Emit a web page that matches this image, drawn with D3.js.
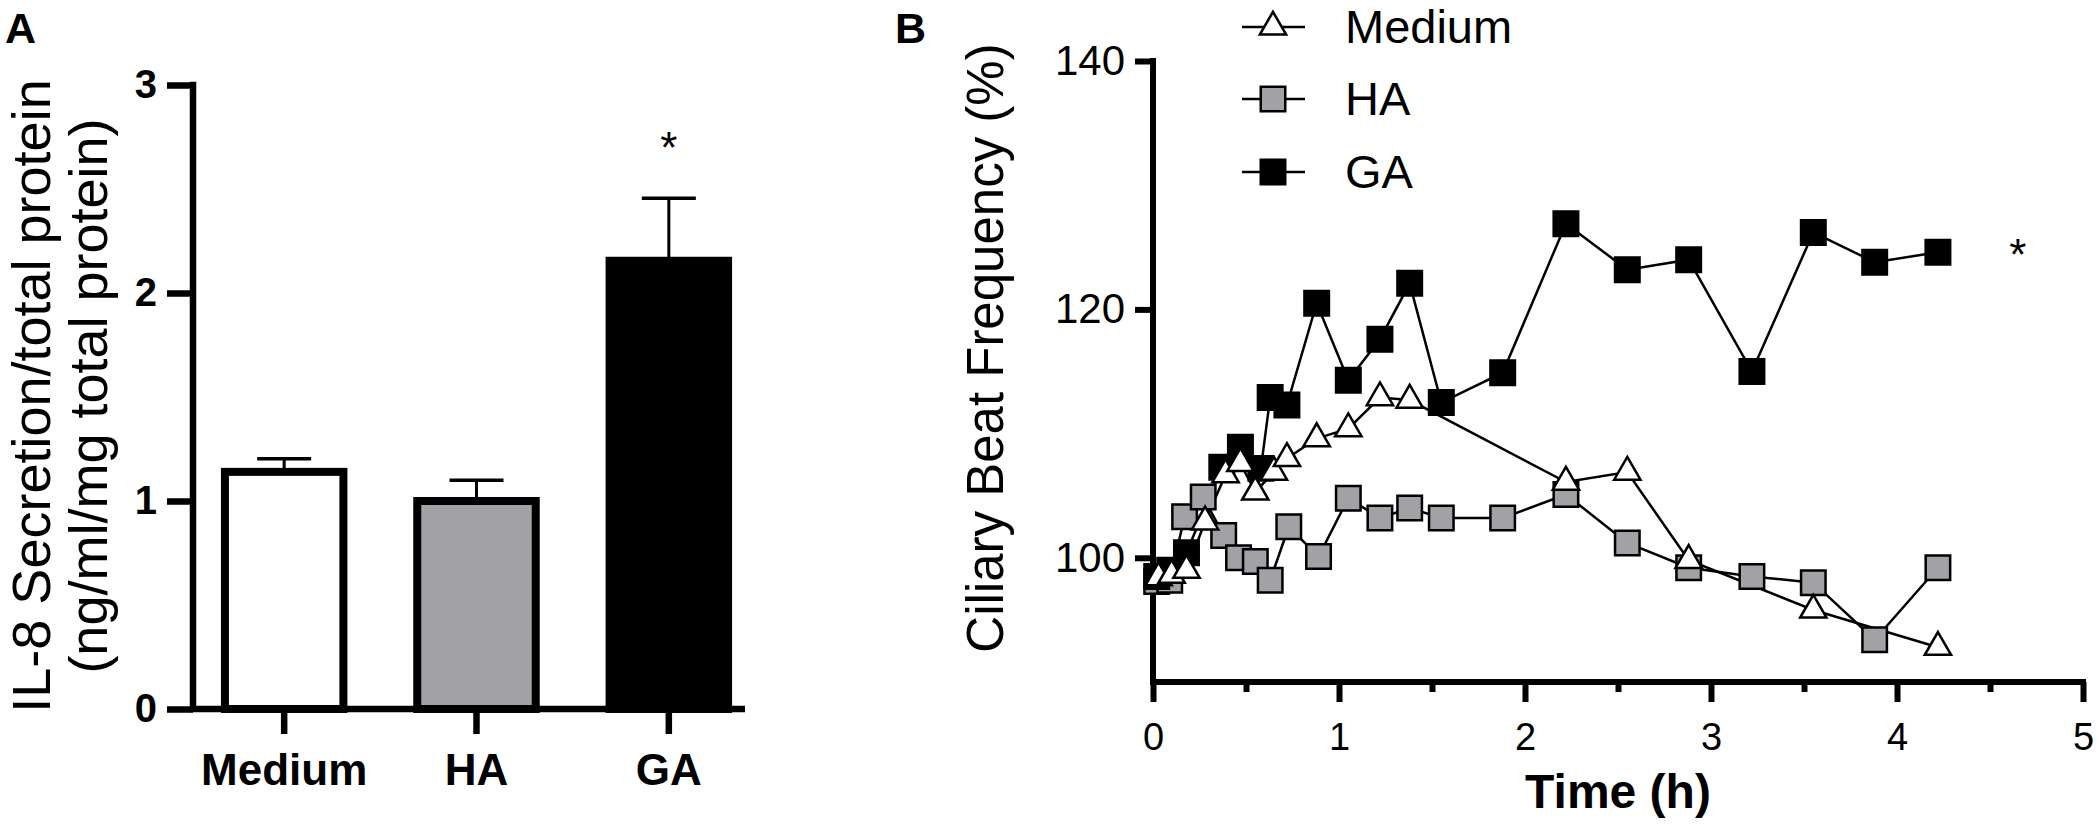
<!DOCTYPE html>
<html>
<head>
<meta charset="utf-8">
<script src="https://cdn.jsdelivr.net/npm/d3@7"></script>
<style>
  body { margin: 0; background: #fff; }
  text { font-family: Arial, "Liberation Sans", sans-serif; fill: #000; }
</style>
</head>
<body>
<svg id="fig" width="2100" height="825"></svg>
<script>
// ---- panel A: IL-8 secretion ----
var barGroups = ["Medium", "HA", "GA"];
var barMeans = [1.14, 1.00, 2.155];
var barErrors = [0.063, 0.10, 0.30];
var barTicks = [0, 1, 2, 3];

// ---- panel B: ciliary beat frequency over time ----
var mediumTime = [0.03, 0.10, 0.18, 0.28, 0.39, 0.47, 0.55, 0.65, 0.72, 0.88, 1.05, 1.22, 1.38, 2.22, 2.55, 2.88, 3.55, 4.22];
var mediumCBF  = [98.4, 98.6, 99.0, 102.9, 106.7, 107.6, 105.3, 106.9, 108.0, 109.6, 110.4, 112.9, 112.7, 106.1, 106.9, 99.8, 95.8, 92.8];
var haTime = [0.02, 0.09, 0.17, 0.27, 0.38, 0.46, 0.55, 0.63, 0.73, 0.89, 1.05, 1.22, 1.38, 1.55, 1.88, 2.22, 2.55, 2.88, 3.22, 3.55, 3.88, 4.22];
var haCBF  = [98.1, 98.2, 103.3, 104.9, 101.8, 100.0, 99.7, 98.2, 102.5, 100.1, 104.8, 103.2, 104.0, 103.2, 103.2, 105.1, 101.2, 99.2, 98.5, 98.0, 93.4, 99.2];
var gaTime = [0.02, 0.09, 0.18, 0.37, 0.47, 0.58, 0.63, 0.72, 0.88, 1.05, 1.22, 1.38, 1.55, 1.88, 2.22, 2.55, 2.88, 3.22, 3.55, 3.88, 4.22];
var gaCBF  = [98.5, 99.0, 100.4, 107.3, 108.9, 107.2, 112.9, 112.3, 120.5, 114.3, 117.6, 122.1, 112.5, 114.9, 126.9, 123.2, 124.0, 115.0, 126.2, 123.8, 124.6];
var timeTicks = [0, 1, 2, 3, 4, 5];
var timeMinorTicks = [0.5, 1.5, 2.5, 3.5, 4.5];
var cbfTicks = [100, 120, 140];

var GRAY = "#a2a2a6";
var barFill = { Medium: "#fff", HA: GRAY, GA: "#000" };

var svg = d3.select("#fig");

// ================= panel A =================
var xA = d3.scaleBand().domain(barGroups).range([188, 765]).paddingInner(0.384).paddingOuter(0.192);
var yA = d3.scaleLinear().domain([0, 3]).range([709, 85]);

var gA = svg.append("g");

var bars = barGroups.map(function(g, i) { return { group: g, mean: barMeans[i], err: barErrors[i] }; });

// error bars (one-sided, drawn under the bars)
gA.selectAll(".err").data(bars).enter().append("g")
    .each(function(d) {
        var cx = xA(d.group) + xA.bandwidth() / 2;
        var g = d3.select(this);
        g.append("line").attr("x1", cx).attr("x2", cx)
            .attr("y1", yA(d.mean)).attr("y2", yA(d.mean + d.err))
            .attr("stroke", "#000").attr("stroke-width", 3);
        g.append("line").attr("x1", cx - 27).attr("x2", cx + 27)
            .attr("y1", yA(d.mean + d.err)).attr("y2", yA(d.mean + d.err))
            .attr("stroke", "#000").attr("stroke-width", 3.5);
    });

gA.selectAll(".bar").data(bars).enter().append("rect")
    .attr("x", function(d) { return xA(d.group); })
    .attr("width", xA.bandwidth())
    .attr("y", function(d) { return yA(d.mean); })
    .attr("height", function(d) { return yA(0) - yA(d.mean); })
    .attr("fill", function(d) { return barFill[d.group]; })
    .attr("stroke", "#000")
    .attr("stroke-width", 8);

// y axis
var axA = gA.append("g").attr("transform", "translate(193,0)")
    .call(d3.axisLeft(yA).tickValues(barTicks).tickFormat(d3.format("d")).tickSize(26).tickPadding(10));
axA.select(".domain").remove();
axA.selectAll(".tick line").attr("stroke", "#000").attr("stroke-width", 6.5);
axA.selectAll(".tick text").style("font-size", "40px").style("font-weight", "bold");
gA.append("line").attr("x1", 193).attr("x2", 193).attr("y1", yA(3) - 3.25).attr("y2", yA(0))
    .attr("stroke", "#000").attr("stroke-width", 6.5);

// x axis
var axAx = gA.append("g").attr("transform", "translate(0," + yA(0) + ")")
    .call(d3.axisBottom(xA).tickSize(25).tickPadding(20));
axAx.select(".domain").remove();
axAx.selectAll(".tick line").attr("stroke", "#000").attr("stroke-width", 6.5);
axAx.selectAll(".tick text").style("font-size", "44px").style("font-weight", "bold");
gA.append("line").attr("x1", 190).attr("x2", 745).attr("y1", yA(0)).attr("y2", yA(0))
    .attr("stroke", "#000").attr("stroke-width", 6.5);

// significance marker
gA.append("text").attr("x", xA("GA") + xA.bandwidth() / 2).attr("y", 163)
    .attr("text-anchor", "middle").style("font-size", "44px").text("*");

// y title (two lines)
var titleA = ["IL-8 Secretion/total protein", "(ng/ml/mg total protein)"];
gA.selectAll(".ytitle").data(titleA).enter().append("text")
    .attr("transform", function(d, i) { return "translate(" + (i === 0 ? 50 : 107) + ",396) rotate(-90)"; })
    .attr("text-anchor", "middle")
    .style("font-size", "54px")
    .text(function(d) { return d; });

// panel letter
svg.append("text").attr("x", 5).attr("y", 43).style("font-size", "43px").style("font-weight", "bold").text("A");

// ================= panel B =================
var xB = d3.scaleLinear().domain([0, 5]).range([1153, 2083]);
var yB = d3.scaleLinear().domain([90, 140]).range([682, 61]);

var gB = svg.append("g");

// y axis
var axB = gB.append("g").attr("transform", "translate(" + xB(0) + ",0)")
    .call(d3.axisLeft(yB).tickValues(cbfTicks).tickSize(18).tickPadding(10));
axB.select(".domain").remove();
axB.selectAll(".tick line").attr("stroke", "#000").attr("stroke-width", 6);
axB.selectAll(".tick text").style("font-size", "42px");
gB.append("line").attr("x1", xB(0)).attr("x2", xB(0)).attr("y1", yB(140) - 3).attr("y2", yB(90))
    .attr("stroke", "#000").attr("stroke-width", 6);

// x axis with minor ticks
var axBx = gB.append("g").attr("transform", "translate(0," + yB(90) + ")")
    .call(d3.axisBottom(xB).tickValues(timeTicks).tickFormat(d3.format("d")).tickSize(20).tickPadding(21));
axBx.select(".domain").remove();
axBx.selectAll(".tick line").attr("stroke", "#000").attr("stroke-width", 6);
axBx.selectAll(".tick text").style("font-size", "38px");
gB.append("g").attr("transform", "translate(0," + yB(90) + ")")
    .call(d3.axisBottom(xB).tickValues(timeMinorTicks).tickFormat("").tickSize(10))
    .call(function(g) {
        g.select(".domain").remove();
        g.selectAll(".tick line").attr("stroke", "#000").attr("stroke-width", 6);
    });
gB.append("line").attr("x1", xB(0) - 3).attr("x2", xB(5) + 3).attr("y1", yB(90)).attr("y2", yB(90))
    .attr("stroke", "#000").attr("stroke-width", 6);

// series
var series = [
    { name: "Medium", time: mediumTime, cbf: mediumCBF, shape: d3.symbolTriangle, size: 300, fill: "#fff" },
    { name: "HA", time: haTime, cbf: haCBF, shape: d3.symbolSquare, size: 600, fill: GRAY },
    { name: "GA", time: gaTime, cbf: gaCBF, shape: d3.symbolSquare, size: 600, fill: "#000" }
];
series.forEach(function(s) {
    s.points = s.time.map(function(t, i) { return [t, s.cbf[i]]; });
});

var line = d3.line().x(function(d) { return xB(d[0]); }).y(function(d) { return yB(d[1]); });

gB.selectAll(".series-line").data(series).enter().append("path")
    .attr("d", function(s) { return line(s.points); })
    .attr("fill", "none").attr("stroke", "#000").attr("stroke-width", 2.5);

// draw order: HA, GA, then Medium triangles on top
[series[1], series[2], series[0]].forEach(function(s) {
    var sym = d3.symbol().type(s.shape).size(s.size);
    gB.append("g").selectAll("path").data(s.points).enter().append("path")
        .attr("transform", function(d) { return "translate(" + xB(d[0]) + "," + yB(d[1]) + ")"; })
        .attr("d", sym)
        .attr("fill", s.fill).attr("stroke", "#000").attr("stroke-width", 2.5);
});

// legend
var legendY = [27, 99, 172];
var leg = gB.selectAll(".legend").data(series).enter().append("g")
    .attr("transform", function(s, i) { return "translate(1273," + legendY[i] + ")"; });
leg.append("line").attr("x1", -31).attr("x2", 32).attr("stroke", "#000").attr("stroke-width", 2.5);
leg.append("path").attr("d", function(s) { return d3.symbol().type(s.shape).size(s.size)(); })
    .attr("fill", function(s) { return s.fill; }).attr("stroke", "#000").attr("stroke-width", 2.5);
leg.append("text").attr("x", 72).attr("y", 16).style("font-size", "47px").text(function(s) { return s.name; });

// significance marker
gB.append("text").attr("x", xB(4.65)).attr("y", 270).attr("text-anchor", "middle")
    .style("font-size", "44px").text("*");

// axis titles
gB.append("text").attr("transform", "translate(1003,348) rotate(-90)")
    .attr("text-anchor", "middle").style("font-size", "51px").text("Ciliary Beat Frequency (%)");
gB.append("text").attr("x", (xB(0) + xB(5)) / 2).attr("y", 808)
    .attr("text-anchor", "middle").style("font-size", "48px").style("font-weight", "bold").text("Time (h)");

svg.append("text").attr("x", 895).attr("y", 43).style("font-size", "43px").style("font-weight", "bold").text("B");
</script>
</body>
</html>
